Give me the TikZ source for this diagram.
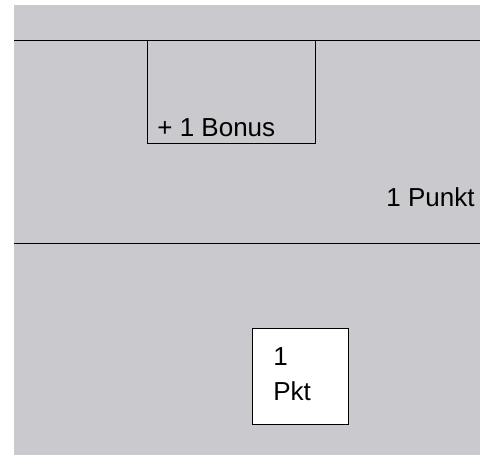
\documentclass[tikz,border=0pt]{standalone}
\usepackage{fontspec}
\setmainfont{Liberation Sans}
\usetikzlibrary{calc}
\definecolor{paper}{RGB}{201,201,206}

\begin{document}
\begin{tikzpicture}[x=1pt, y=-1pt, line width=0.8pt,
		every node/.style={font=\fontsize{26}{35}\selectfont, inner sep=0pt, anchor=base west}]
		\useasboundingbox (0,0) rectangle (480,455);
		\fill[paper] (14,5) rectangle (480,455);

		\path (14,40) coordinate (cursor);
		\draw (cursor) -- ++(466,0);
		\draw (147,40) rectangle (315,143);
		\node (bonus) at (157,136) {+ 1 Bonus};

		\node (punkt) at (386,206) {1 Punkt};
		\path (14,243) coordinate (cursor);
		\draw (cursor) -- ++(466,0);

		\draw[fill=white] (252,328) rectangle (348,424);
		\node (eins) at (273,365) {1};
		\node (pkt) at (273,400) {Pkt};
	\end{tikzpicture}
\end{document}
